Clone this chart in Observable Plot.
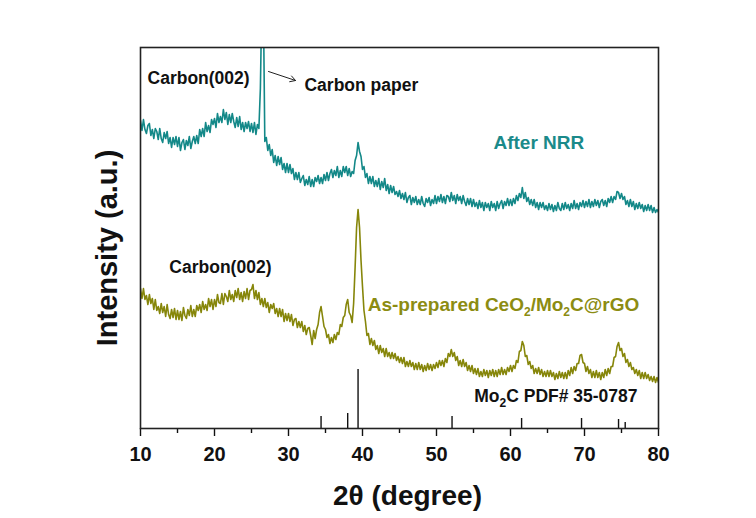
<!DOCTYPE html>
<html>
<head>
<meta charset="utf-8">
<script src="https://cdn.jsdelivr.net/npm/d3@7"></script>
<script src="https://cdn.jsdelivr.net/npm/@observablehq/plot@0.6"></script>
<style>
  body { margin: 0; background: #fff; }
  #chart svg { display: block; }
</style>
</head>
<body>
<div id="chart"></div>
<script>
// XRD patterns sampled every 0.2° from 10° to 80° (2θ), intensity in arbitrary units
const scanStart = 10;
const scanStep = 0.2;

// After NRR (teal)
const afterNRR = [
  308,298,309,299,295,303,305,293,299,290,300,297,289,300,290,286,296,290,297,285,291,281,291,284,292,
  282,291,278,286,289,279,288,283,292,280,287,292,285,293,285,299,292,300,292,306,297,303,296,309,304,
  310,301,315,306,312,306,319,309,316,304,314,306,315,307,301,311,302,312,299,306,297,306,300,307,297,
  305,296,306,294,304,300,340,430,430,287,291,278,284,273,279,266,273,263,272,264,271,259,265,256,265,
  256,264,255,260,249,256,249,256,246,250,253,243,249,244,252,242,249,242,251,247,253,245,251,245,254,
  248,256,248,255,259,251,258,253,262,251,258,252,262,256,262,253,260,252,257,255,268,273,286,277,272,
  259,262,251,255,245,252,245,252,242,248,242,250,239,247,241,250,238,244,235,243,236,242,234,237,232,
  238,230,235,229,236,226,231,233,224,231,226,232,224,229,224,232,225,222,230,226,231,223,229,225,233,
  225,232,227,234,226,232,225,233,232,227,236,228,233,225,234,228,232,225,233,227,223,230,224,230,222,
  229,222,226,220,228,221,226,218,226,221,225,218,227,221,225,218,227,220,225,228,220,227,223,230,223,
  229,223,230,225,233,228,235,231,241,230,236,227,231,224,229,223,229,221,226,219,226,221,226,219,223,
  218,225,219,224,217,223,218,226,220,218,225,219,226,220,224,218,225,220,228,220,225,219,226,222,228,
  221,227,222,229,221,227,222,229,223,228,221,227,229,223,228,222,230,226,232,226,232,229,237,236,230,
  235,229,232,224,228,222,229,222,227,219,225,220,226,220,224,217,223,218,224,218,223,216,221,216,219,216
];

// As-prepared CeO2/Mo2C@rGO (olive)
const asPrepared = [
  140,130,140,129,133,124,134,125,130,119,129,118,122,115,125,116,122,112,124,114,110,119,111,120,109,
  118,109,117,108,121,113,110,119,113,123,112,119,112,123,118,124,116,127,119,124,118,130,122,129,119,
  129,122,134,126,125,135,124,135,132,127,138,129,134,127,138,131,140,129,136,127,137,130,140,129,138,
  139,144,130,138,129,136,124,130,122,130,121,126,116,124,120,125,115,120,112,120,112,119,107,115,108,
  115,107,114,103,109,110,101,107,101,107,97,103,94,100,101,93,84,98,90,99,104,116,122,112,102,
  99,91,94,85,91,86,94,89,96,94,104,102,111,113,124,129,116,113,106,125,161,201,219,201,168,
  142,118,107,93,95,84,90,83,88,79,83,75,83,76,80,72,80,72,76,70,76,70,75,68,72,
  66,71,65,71,62,67,62,68,62,66,59,65,59,66,59,64,57,63,58,65,59,64,58,64,60,
  66,61,68,63,68,62,70,66,75,72,79,72,76,68,72,63,68,62,69,62,66,58,63,57,63,
  55,60,54,60,52,57,52,59,53,58,51,58,53,59,52,58,52,59,54,61,54,59,54,61,57,
  63,57,63,60,68,66,77,78,87,83,72,73,64,67,60,63,55,60,55,61,54,59,52,57,52,
  58,52,58,52,56,49,55,50,57,51,56,50,56,50,58,53,61,55,62,58,65,65,73,74,66,
  65,57,62,55,59,51,57,51,58,51,56,49,56,51,59,53,60,55,62,62,71,72,82,86,78,
  80,72,75,66,69,62,66,59,61,55,59,53,58,50,56,50,56,50,54,48,52,47,52,46,51,46
];

// Mo2C reference pattern (PDF# 35-0787): positions and relative heights
const refPositions = [34.4, 38.0, 39.4, 52.1, 61.5, 69.6, 74.6, 75.5];
const refHeights   = [12, 15, 59, 12, 10, 10, 9, 6];

// x-axis ticks
const majorTicks = [10, 20, 30, 40, 50, 60, 70, 80];
const minorTicks = [15, 25, 35, 45, 55, 65, 75];

// annotation labels (data coordinates); "_2" marks a subscript 2
const labelTexts  = ["Carbon(002)", "Carbon paper", "After NRR", "Carbon(002)", "As-prepared CeO_2/Mo_2C@rGO", "Mo_2C PDF# 35-0787"];
const labelX      = [10.95, 32.16, 57.7, 13.9, 40.7, 55.1];
const labelY      = [350, 343, 286, 161, 124, 32];
const labelSizes  = [17.5, 17.5, 19, 17.5, 19, 17.5];
const labelColors = ["#111", "#111", "#1b8a8a", "#111", "#8c8c12", "#111"];

// arrow from the upper Carbon(002) label towards "Carbon paper"
const arrowFrom = [27.3, 357];
const arrowTo   = [30.95, 348];

const tealColor = "#138888";
const oliveColor = "#86860a";

const toSeries = vals => vals.map((v, i) => ({theta: scanStart + i * scanStep, intensity: v}));
const tealRows = toSeries(afterNRR);
const oliveRows = toSeries(asPrepared);
const refRows = refPositions.map((p, i) => ({theta: p, h: refHeights[i]}));
const labels = labelTexts.map((t, i) => ({text: t, x: labelX[i], y: labelY[i], size: labelSizes[i], color: labelColors[i]}));

const fontFamily = "'Liberation Sans', Arial, Helvetica, sans-serif";

const chart = Plot.plot({
  width: 756,
  height: 518,
  marginLeft: 140,
  marginRight: 98,
  marginTop: 47,
  marginBottom: 90,
  style: {fontFamily, fontWeight: "bold", background: "#fff", color: "#111", overflow: "visible"},
  x: {domain: [10, 80], axis: null},
  y: {domain: [0, 381], axis: null},
  color: {type: "identity"},
  marks: [
    Plot.ruleX(refRows, {x: "theta", y1: 0, y2: "h", stroke: "#111", strokeWidth: 1.4}),
    Plot.line(tealRows, {x: "theta", y: "intensity", stroke: tealColor, strokeWidth: 1.6, clip: true}),
    Plot.line(oliveRows, {x: "theta", y: "intensity", stroke: oliveColor, strokeWidth: 1.6, clip: true}),
    Plot.axisX({ticks: majorTicks, tickSize: 8, tickPadding: 10, fontSize: 20, strokeWidth: 1.4, label: null, tickFormat: d => String(d)}),
    Plot.axisX({ticks: minorTicks, tickSize: 5, strokeWidth: 1.4, label: null, tickFormat: () => ""}),
    Plot.frame({stroke: "#222", strokeWidth: 1.6}),
    Plot.arrow([{from: arrowFrom, to: arrowTo}], {
      x1: d => d.from[0], y1: d => d.from[1], x2: d => d.to[0], y2: d => d.to[1],
      stroke: "#222", strokeWidth: 1, headLength: 9, bend: 0
    }),
    Plot.text(labels, {
      x: "x", y: "y", text: "text", fontSize: "size", fill: "color",
      textAnchor: "start", lineAnchor: "middle"
    }),
    Plot.text(["2θ (degree)"], {
      frameAnchor: "bottom", textAnchor: "middle", lineAnchor: "middle",
      dx: 8, dy: 68, fontSize: 28, fill: "#111"
    }),
    Plot.text(["Intensity (a.u.)"], {
      frameAnchor: "left", textAnchor: "middle", lineAnchor: "middle",
      rotate: -90, dx: -33, dy: 10, fontSize: 29, fill: "#111"
    })
  ]
});

// turn "_2" markers into real subscripts
chart.querySelectorAll("text").forEach(node => {
  const content = node.textContent;
  if (!content.includes("_")) return;
  const parts = content.split(/_(\d)/);
  while (node.firstChild) node.removeChild(node.firstChild);
  let shifted = false;
  parts.forEach((part, i) => {
    if (!part) return;
    const span = document.createElementNS("http://www.w3.org/2000/svg", "tspan");
    span.textContent = part;
    if (i % 2 === 1) {
      span.setAttribute("dy", "5");
      span.setAttribute("font-size", "12");
      shifted = true;
    } else if (shifted) {
      span.setAttribute("dy", "-5");
      shifted = false;
    }
    node.appendChild(span);
  });
});

document.getElementById("chart").appendChild(chart);
</script>
</body>
</html>
